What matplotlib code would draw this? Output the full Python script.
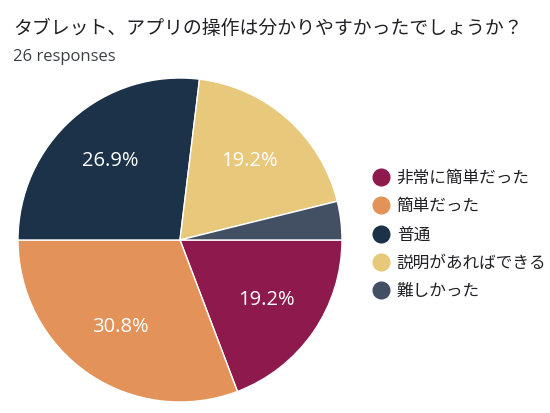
import matplotlib
matplotlib.use("Agg")
import matplotlib.pyplot as plt
from matplotlib.lines import Line2D

plt.rcParams['font.family'] = ['Noto Sans CJK JP', 'DejaVu Sans']

title = "タブレット、アプリの操作は分かりやすかったでしょうか？"
subtitle = "26 responses"
categories = ["非常に簡単だった", "簡単だった", "普通", "説明があればできる", "難しかった"]
counts = [5, 8, 7, 5, 1]
colors = ["#8E1A4D", "#E3935A", "#1B3249", "#E8C87A", "#434F63"]

W, H = 550, 413
fig = plt.figure(figsize=(W / 100, H / 100), dpi=100)
fig.patch.set_facecolor("white")

cx, cy, r = 180, 240, 162
ax = fig.add_axes([(cx - r) / W, (H - cy - r) / H, 2 * r / W, 2 * r / H])

def fmt(p):
    return f"{p:.1f}%" if p >= 5 else ""

wedges, texts, autotexts = ax.pie(
    counts, colors=colors, startangle=0, counterclock=False,
    autopct=fmt, pctdistance=0.65, radius=1.0,
    wedgeprops=dict(edgecolor="white", linewidth=1),
    textprops=dict(color="white", fontsize=14.5, family=["Open Sans", "DejaVu Sans"]),
)
ax.set_xlim(-1, 1)
ax.set_ylim(-1, 1)
ax.set_aspect("equal")
ax.axis("off")

fig.text(13 / W, 1 - 28 / H, title, fontsize=13.6, color="#202124", va="center", ha="left")
fig.text(13 / W, 1 - 57 / H, subtitle, fontsize=12, color="#3c4043", va="center", ha="left",
         family=["Open Sans", "DejaVu Sans"])

handles = [Line2D([0], [0], marker="o", linestyle="none", markersize=12,
                  markerfacecolor=c, markeredgecolor=c) for c in colors]
leg = fig.legend(handles, categories, loc="center left",
                 bbox_to_anchor=(371 / W, 1 - 235 / H), frameon=False,
                 fontsize=12, handletextpad=0.35, labelspacing=0.68,
                 handlelength=1.2, borderaxespad=0, borderpad=0)
for t in leg.get_texts():
    t.set_color("#202124")

fig.savefig("out.png", dpi=100, facecolor="white")
